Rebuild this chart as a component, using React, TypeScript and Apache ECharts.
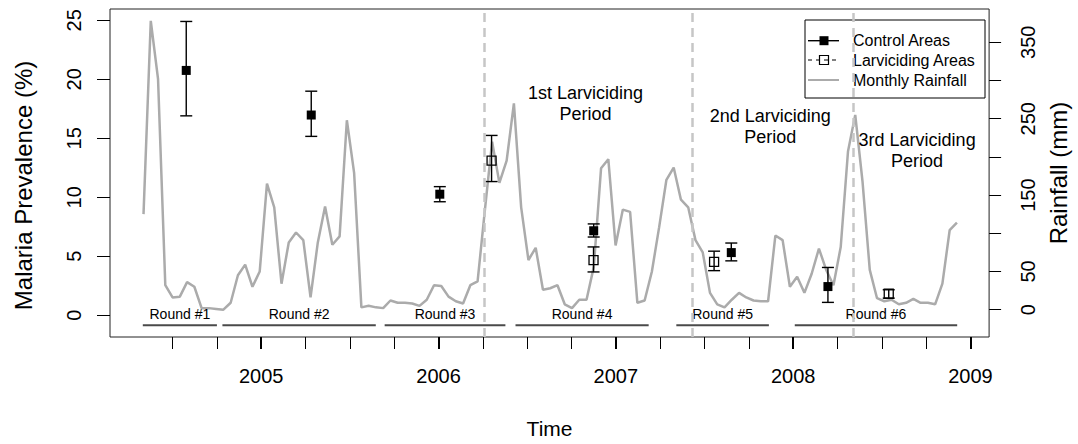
import React, { useEffect, useRef } from "react";
import * as echarts from "echarts";

// ---- Malaria prevalence (%) with confidence limits ----
const controlTimes = [2004.577, 2005.282, 2006.007, 2006.875, 2007.651, 2008.196];
const controlPrev = [20.75, 16.97, 10.26, 7.16, 5.31, 2.43];
const controlLow = [16.9, 15.16, 9.62, 6.63, 4.61, 1.09];
const controlHigh = [24.9, 18.99, 10.9, 7.74, 6.12, 4.05];

const larvTimes = [2006.299, 2006.874, 2007.554, 2008.539];
const larvPrev = [13.11, 4.67, 4.53, 1.82];
const larvLow = [11.33, 3.67, 3.78, 1.45];
const larvHigh = [15.24, 5.79, 5.43, 2.16];

// ---- Rainfall (mm), regularly spaced readings ----
const rainStart = 2004.336;
const rainStep = 0.04096;
const rainfall = [
  125, 378, 302, 32, 16, 17, 36, 30, 2, 2, 1, 0, 9, 45, 59, 30, 50, 165, 134, 34,
  88, 101, 91, 16, 88, 135, 85, 96, 248, 179, 3, 5, 3, 2, 12, 9, 9, 8, 5, 13,
  32, 31, 17, 11, 8, 32, 37, 130, 220, 166, 195, 270, 134, 65, 81, 26, 28, 32, 7, 2,
  13, 13, 56, 185, 197, 84, 131, 128, 9, 12, 50, 108, 170, 186, 144, 134, 91, 75, 22, 7,
  3, 13, 22, 16, 12, 11, 11, 97, 91, 30, 43, 22, 47, 80, 52, 32, 82, 207, 255, 168,
  52, 15, 11, 13, 7, 9, 14, 9, 9, 7, 34, 104, 114,
];

// ---- Survey rounds ----
const roundLabels = ["Round #1", "Round #2", "Round #3", "Round #4", "Round #5", "Round #6"];
const roundStart = [2004.332, 2004.781, 2005.696, 2006.434, 2007.341, 2008.009];
const roundEnd = [2004.75, 2005.646, 2006.377, 2007.185, 2007.863, 2008.925];

// ---- Larviciding periods ----
const periodStarts = [2006.258, 2007.426, 2008.341];
const periodLabels = ["1st Larviciding\nPeriod", "2nd Larviciding\nPeriod", "3rd Larviciding\nPeriod"];
const periodLabelX = [2006.829, 2007.871, 2008.699];
const periodLabelY = [17.91, 15.98, 13.94];

// ---- Axes ----
const yearTicks = [2005, 2006, 2007, 2008, 2009];
const quarterTicks = [
  2004.5, 2004.75, 2005, 2005.25, 2005.5, 2005.75, 2006, 2006.25, 2006.5, 2006.75,
  2007, 2007.25, 2007.5, 2007.75, 2008, 2008.25, 2008.5, 2008.75, 2009,
];
const prevTicks = [0, 5, 10, 15, 20, 25];
const rainTicks = [0, 50, 100, 150, 200, 250, 300, 350];
const rainLabels = [0, 50, 150, 250, 350];

const X_MIN = 2004.147;
const X_MAX = 2009.105;
const PREV_MIN = -1.844;
const PREV_MAX = 25.956;
const RAIN_MIN = -35.8;
const RAIN_MAX = 393.6;
const ROUND_LINE_Y = -0.84;
const ROUND_LABEL_Y = 0.11;

const FONT = '"Liberation Sans", Arial, Helvetica, sans-serif';

function errorBarRender(params: any, api: any) {
  const x = api.value(0);
  const lo = api.coord([x, api.value(1)]);
  const hi = api.coord([x, api.value(2)]);
  const cap = 6;
  const style = { stroke: "#000", lineWidth: 1.4 };
  return {
    type: "group",
    children: [
      { type: "line", shape: { x1: lo[0], y1: lo[1], x2: hi[0], y2: hi[1] }, style },
      { type: "line", shape: { x1: lo[0] - cap, y1: lo[1], x2: lo[0] + cap, y2: lo[1] }, style },
      { type: "line", shape: { x1: hi[0] - cap, y1: hi[1], x2: hi[0] + cap, y2: hi[1] }, style },
    ],
  };
}

export default function App() {
  const ref = useRef<HTMLDivElement>(null);

  useEffect(() => {
    if (!ref.current) return;
    const chart = echarts.init(ref.current, null, { renderer: "svg" });

    const lx = 808, rx = 839, sx = 824;
    const rows = [40.7, 60, 80];

    const option: any = {
      animation: false,
      backgroundColor: "#fff",
      textStyle: { fontFamily: FONT },
      grid: {
        left: 110,
        top: 9,
        width: 891,
        height: 332,
        show: true,
        borderColor: "#222",
        borderWidth: 1,
        backgroundColor: "transparent",
      },
      xAxis: [
        {
          type: "value",
          min: X_MIN,
          max: X_MAX,
          position: "bottom",
          axisLine: { show: false, onZero: false },
          axisTick: {
            show: true,
            customValues: quarterTicks,
            length: 12,
            lineStyle: { color: "#000", width: 1 },
          },
          axisLabel: { show: false },
          splitLine: { show: false },
        },
        {
          type: "value",
          min: X_MIN,
          max: X_MAX,
          position: "bottom",
          axisLine: { show: false, onZero: false },
          axisTick: {
            show: true,
            customValues: yearTicks,
            length: 12,
            lineStyle: { color: "#000", width: 2 },
          },
          axisLabel: {
            show: true,
            customValues: yearTicks,
            fontSize: 20,
            color: "#000",
            margin: 29,
            fontFamily: FONT,
            formatter: (v: number) => String(Math.round(v)),
          },
          splitLine: { show: false },
          name: "Time",
          nameLocation: "middle",
          nameGap: 81,
          nameTextStyle: { fontSize: 21, color: "#000", fontFamily: FONT },
        },
      ],
      yAxis: [
        {
          type: "value",
          min: PREV_MIN,
          max: PREV_MAX,
          position: "left",
          axisLine: { show: false, onZero: false },
          axisTick: {
            show: true,
            customValues: prevTicks,
            length: 13,
            lineStyle: { color: "#000", width: 1 },
          },
          axisLabel: {
            show: true,
            customValues: prevTicks,
            rotate: 90,
            fontSize: 20,
            color: "#000",
            margin: 26,
            fontFamily: FONT,
          },
          splitLine: { show: false },
          name: "Malaria Prevalence (%)",
          nameLocation: "middle",
          nameGap: 75,
          nameRotate: 90,
          nameTextStyle: { fontSize: 24, color: "#000", fontFamily: FONT, padding: [0, 25, 0, 0] },
        },
        {
          type: "value",
          min: RAIN_MIN,
          max: RAIN_MAX,
          position: "right",
          axisLine: { show: false, onZero: false },
          axisTick: {
            show: true,
            customValues: rainTicks,
            length: 12,
            lineStyle: { color: "#000", width: 1 },
          },
          axisLabel: {
            show: true,
            customValues: rainLabels,
            rotate: 90,
            fontSize: 20,
            color: "#000",
            margin: 29,
            fontFamily: FONT,
          },
          splitLine: { show: false },
          name: "Rainfall (mm)",
          nameLocation: "middle",
          nameGap: 39,
          nameRotate: 90,
          nameTextStyle: { fontSize: 24, color: "#000", fontFamily: FONT },
        },
      ],
      series: [
        {
          name: "Monthly Rainfall",
          type: "line",
          xAxisIndex: 0,
          yAxisIndex: 1,
          data: rainfall.map((v, i) => [rainStart + i * rainStep, v]),
          symbol: "none",
          lineStyle: { color: "#ababab", width: 2.5 },
          z: 2,
          markLine: {
            silent: true,
            symbol: "none",
            label: { show: false },
            lineStyle: { color: "#c6c6c6", width: 2.5, type: [9, 6] },
            data: periodStarts.map((v) => ({ xAxis: v })),
          },
        },
        {
          name: "Control CI",
          type: "custom",
          xAxisIndex: 0,
          yAxisIndex: 0,
          renderItem: errorBarRender,
          data: controlTimes.map((t, i) => [t, controlLow[i], controlHigh[i]]),
          encode: { x: 0, y: [1, 2] },
          z: 4,
        },
        {
          name: "Larviciding CI",
          type: "custom",
          xAxisIndex: 0,
          yAxisIndex: 0,
          renderItem: errorBarRender,
          data: larvTimes.map((t, i) => [t, larvLow[i], larvHigh[i]]),
          encode: { x: 0, y: [1, 2] },
          z: 4,
        },
        {
          name: "Control Areas",
          type: "scatter",
          xAxisIndex: 0,
          yAxisIndex: 0,
          symbol: "rect",
          symbolSize: 9,
          itemStyle: { color: "#000", opacity: 1 },
          data: controlTimes.map((t, i) => [t, controlPrev[i]]),
          z: 5,
        },
        {
          name: "Larviciding Areas",
          type: "scatter",
          xAxisIndex: 0,
          yAxisIndex: 0,
          symbol: "rect",
          symbolSize: 9,
          itemStyle: { color: "rgba(0,0,0,0)", borderColor: "#000", borderWidth: 1.3, opacity: 1 },
          data: larvTimes.map((t, i) => [t, larvPrev[i]]),
          z: 5,
        },
        {
          name: "Rounds",
          type: "custom",
          xAxisIndex: 0,
          yAxisIndex: 0,
          data: roundLabels.map((_, i) => [roundStart[i], roundEnd[i]]),
          encode: { x: [0, 1] },
          renderItem: (params: any, api: any) => {
            const i = params.dataIndex;
            const a = api.coord([api.value(0), ROUND_LINE_Y]);
            const b = api.coord([api.value(1), ROUND_LINE_Y]);
            const c = api.coord([(api.value(0) + api.value(1)) / 2, ROUND_LABEL_Y]);
            return {
              type: "group",
              children: [
                {
                  type: "line",
                  shape: { x1: a[0], y1: a[1], x2: b[0], y2: b[1] },
                  style: { stroke: "#4a4a4a", lineWidth: 2 },
                },
                {
                  type: "text",
                  style: {
                    text: roundLabels[i],
                    x: c[0],
                    y: c[1],
                    align: "center",
                    verticalAlign: "middle",
                    font: `14px ${FONT}`,
                    fill: "#000",
                  },
                },
              ],
            };
          },
          z: 3,
        },
        {
          name: "Periods",
          type: "custom",
          xAxisIndex: 0,
          yAxisIndex: 0,
          data: periodLabels.map((_, i) => [periodLabelX[i], periodLabelY[i]]),
          encode: { x: 0, y: 1 },
          renderItem: (params: any, api: any) => {
            const i = params.dataIndex;
            const p = api.coord([api.value(0), api.value(1)]);
            return {
              type: "text",
              style: {
                text: periodLabels[i],
                x: p[0],
                y: p[1],
                align: "center",
                verticalAlign: "middle",
                font: `18px ${FONT}`,
                lineHeight: 21,
                fill: "#000",
              },
            };
          },
          z: 3,
        },
      ],
      graphic: [
        {
          type: "group",
          z: 100,
          children: [
            {
              type: "rect",
              shape: { x: 805, y: 20, width: 180, height: 78 },
              style: { fill: "#fff", stroke: "#000", lineWidth: 1 },
            },
            { type: "line", shape: { x1: lx, y1: rows[0], x2: rx, y2: rows[0] }, style: { stroke: "#000", lineWidth: 1.4 } },
            { type: "rect", shape: { x: sx - 4.5, y: rows[0] - 4.5, width: 9, height: 9 }, style: { fill: "#000" } },
            {
              type: "line",
              shape: { x1: lx, y1: rows[1], x2: rx, y2: rows[1] },
              style: { stroke: "#000", lineWidth: 1.2, lineDash: [4, 4] },
            },
            {
              type: "rect",
              shape: { x: sx - 4.5, y: rows[1] - 4.5, width: 9, height: 9 },
              style: { fill: "rgba(0,0,0,0)", stroke: "#000", lineWidth: 1.2 },
            },
            { type: "line", shape: { x1: lx, y1: rows[2], x2: rx, y2: rows[2] }, style: { stroke: "#ababab", lineWidth: 2 } },
            {
              type: "text",
              style: { text: "Control Areas", x: 853, y: rows[0], verticalAlign: "middle", font: `16px ${FONT}`, fill: "#000" },
            },
            {
              type: "text",
              style: { text: "Larviciding Areas", x: 853, y: rows[1], verticalAlign: "middle", font: `16px ${FONT}`, fill: "#000" },
            },
            {
              type: "text",
              style: { text: "Monthly Rainfall", x: 853, y: rows[2], verticalAlign: "middle", font: `16px ${FONT}`, fill: "#000" },
            },
          ],
        },
      ],
    };

    chart.setOption(option);
    return () => chart.dispose();
  }, []);

  return (
    <div
      ref={ref}
      style={{ position: "absolute", left: 0, top: 0, width: 1078, height: 444, background: "#fff" }}
    />
  );
}
